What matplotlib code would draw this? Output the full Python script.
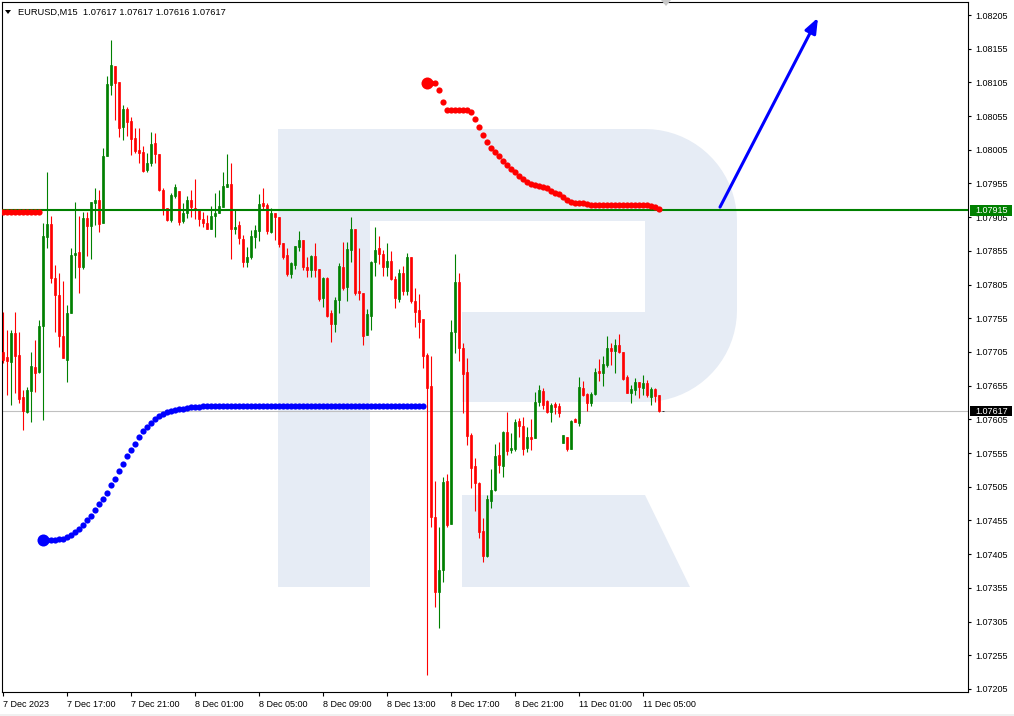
import numpy as np
import matplotlib
matplotlib.use('Agg')
from matplotlib import pyplot as plt
from matplotlib.patches import Polygon, Rectangle
from matplotlib.transforms import blended_transform_factory

plt.rcParams['font.family'] = ['Liberation Sans', 'DejaVu Sans']

title = 'EURUSD,M15  1.07617 1.07617 1.07616 1.07617'

# M15 candles, bar 0 = 7 Dec 13:00
opens = [1.07705, 1.07698, 1.07690, 1.07733, 1.07700, 1.07638, 1.07616, 1.07647, 1.07683, 1.07675,
         1.07744, 1.07876, 1.07895, 1.07815, 1.07790, 1.07729, 1.07693, 1.07763, 1.07849, 1.07853,
         1.07831, 1.07904, 1.07892, 1.07926, 1.07931, 1.07896, 1.07996, 1.08101, 1.08129, 1.08106,
         1.08039, 1.08066, 1.08048, 1.08023, 1.08005, 1.08002, 1.07975, 1.07985, 1.08015, 1.07999,
         1.07945, 1.07919, 1.07901, 1.07936, 1.07944, 1.07899, 1.07911, 1.07931, 1.07919, 1.07916,
         1.07902, 1.07896, 1.07887, 1.07907, 1.07911, 1.07920, 1.07950, 1.07954, 1.07887, 1.07893,
         1.07873, 1.07839, 1.07846, 1.07876, 1.07885, 1.07926, 1.07923, 1.07883, 1.07911, 1.07905,
         1.07867, 1.07849, 1.07821, 1.07834, 1.07861, 1.07871, 1.07831, 1.07827, 1.07847, 1.07828,
         1.07785, 1.07815, 1.07763, 1.07747, 1.07782, 1.07831, 1.07801, 1.07856, 1.07887, 1.07796,
         1.07793, 1.07730, 1.07758, 1.07839, 1.07859, 1.07850, 1.07831, 1.07840, 1.07813, 1.07784,
         1.07822, 1.07796, 1.07846, 1.07781, 1.07767, 1.07754, 1.07701, 1.07655, 1.07460, 1.07349,
         1.07382, 1.07514, 1.07450, 1.07735, 1.07809, 1.07711, 1.07675, 1.07582, 1.07536, 1.07511,
         1.07439, 1.07402, 1.07484, 1.07500, 1.07552, 1.07536, 1.07586, 1.07560, 1.07561, 1.07603,
         1.07595, 1.07563, 1.07579, 1.07577, 1.07631, 1.07647, 1.07632, 1.07616, 1.07628, 1.07625,
         1.07570, 1.07579, 1.07561, 1.07606, 1.07600, 1.07652, 1.07643, 1.07629, 1.07643, 1.07677,
         1.07674, 1.07686, 1.07711, 1.07706, 1.07715, 1.07705, 1.07668, 1.07644, 1.07649, 1.07660,
         1.07652, 1.07659, 1.07638, 1.07650, 1.07641, 1.07617]
highs = [1.07764, 1.07738, 1.07738, 1.07764, 1.07735, 1.07649, 1.07653, 1.07705, 1.07723, 1.07752,
         1.07896, 1.07972, 1.07907, 1.07834, 1.07822, 1.07810, 1.07775, 1.07859, 1.07928, 1.07907,
         1.07913, 1.07913, 1.07928, 1.07948, 1.07945, 1.08008, 1.08114, 1.08168, 1.08129, 1.08106,
         1.08071, 1.08068, 1.08054, 1.08037, 1.08037, 1.08011, 1.08000, 1.08031, 1.08030, 1.07999,
         1.07948, 1.07919, 1.07941, 1.07954, 1.07944, 1.07926, 1.07936, 1.07945, 1.07962, 1.07916,
         1.07913, 1.07908, 1.07922, 1.07941, 1.07945, 1.07972, 1.07999, 1.07985, 1.07916, 1.07899,
         1.07879, 1.07861, 1.07886, 1.07893, 1.07939, 1.07948, 1.07926, 1.07919, 1.07911, 1.07905,
         1.07867, 1.07859, 1.07839, 1.07862, 1.07885, 1.07871, 1.07846, 1.07849, 1.07867, 1.07828,
         1.07816, 1.07816, 1.07767, 1.07787, 1.07837, 1.07868, 1.07868, 1.07905, 1.07887, 1.07859,
         1.07793, 1.07769, 1.07840, 1.07890, 1.07877, 1.07856, 1.07867, 1.07855, 1.07818, 1.07828,
         1.07833, 1.07852, 1.07846, 1.07800, 1.07791, 1.07754, 1.07704, 1.07699, 1.07514, 1.07445,
         1.07520, 1.07524, 1.07752, 1.07850, 1.07822, 1.07718, 1.07696, 1.07585, 1.07548, 1.07512,
         1.07459, 1.07493, 1.07531, 1.07568, 1.07571, 1.07588, 1.07616, 1.07585, 1.07606, 1.07607,
         1.07609, 1.07594, 1.07606, 1.07646, 1.07656, 1.07652, 1.07634, 1.07629, 1.07631, 1.07629,
         1.07582, 1.07579, 1.07604, 1.07607, 1.07668, 1.07662, 1.07644, 1.07646, 1.07681, 1.07695,
         1.07699, 1.07729, 1.07718, 1.07724, 1.07732, 1.07705, 1.07671, 1.07656, 1.07666, 1.07660,
         1.07671, 1.07663, 1.07653, 1.07652, 1.07641, 1.07617]
lows = [1.07689, 1.07641, 1.07626, 1.07644, 1.07629, 1.07589, 1.07614, 1.07601, 1.07646, 1.07674,
        1.07604, 1.07859, 1.07807, 1.07735, 1.07712, 1.07696, 1.07660, 1.07763, 1.07815, 1.07793,
        1.07828, 1.07847, 1.07843, 1.07893, 1.07883, 1.07896, 1.07996, 1.08086, 1.08049, 1.08024,
        1.08020, 1.08025, 1.07997, 1.08000, 1.07985, 1.07972, 1.07972, 1.07981, 1.07985, 1.07944,
        1.07908, 1.07899, 1.07898, 1.07933, 1.07893, 1.07896, 1.07904, 1.07905, 1.07902, 1.07892,
        1.07890, 1.07887, 1.07887, 1.07876, 1.07911, 1.07920, 1.07950, 1.07843, 1.07880, 1.07865,
        1.07831, 1.07831, 1.07843, 1.07859, 1.07870, 1.07917, 1.07880, 1.07882, 1.07871, 1.07861,
        1.07843, 1.07818, 1.07815, 1.07828, 1.07855, 1.07827, 1.07816, 1.07816, 1.07816, 1.07781,
        1.07772, 1.07757, 1.07720, 1.07735, 1.07763, 1.07797, 1.07781, 1.07839, 1.07790, 1.07782,
        1.07715, 1.07730, 1.07738, 1.07818, 1.07836, 1.07818, 1.07818, 1.07812, 1.07770, 1.07779,
        1.07790, 1.07790, 1.07778, 1.07742, 1.07726, 1.07681, 1.07226, 1.07445, 1.07327, 1.07296,
        1.07364, 1.07445, 1.07450, 1.07704, 1.07692, 1.07614, 1.07567, 1.07503, 1.07469, 1.07429,
        1.07393, 1.07401, 1.07474, 1.07499, 1.07525, 1.07520, 1.07552, 1.07555, 1.07558, 1.07579,
        1.07552, 1.07557, 1.07560, 1.07577, 1.07625, 1.07620, 1.07614, 1.07601, 1.07613, 1.07609,
        1.07570, 1.07558, 1.07561, 1.07601, 1.07595, 1.07640, 1.07617, 1.07625, 1.07641, 1.07662,
        1.07655, 1.07683, 1.07686, 1.07674, 1.07704, 1.07663, 1.07644, 1.07629, 1.07641, 1.07637,
        1.07641, 1.07638, 1.07626, 1.07631, 1.07616, 1.07617]
closes = [1.07693, 1.07692, 1.07733, 1.07699, 1.07635, 1.07617, 1.07649, 1.07684, 1.07674, 1.07744,
          1.07877, 1.07895, 1.07815, 1.07790, 1.07729, 1.07696, 1.07763, 1.07849, 1.07852, 1.07831,
          1.07904, 1.07892, 1.07928, 1.07931, 1.07895, 1.07996, 1.08103, 1.08131, 1.08104, 1.08037,
          1.08066, 1.08046, 1.08021, 1.08003, 1.08000, 1.07974, 1.07985, 1.08014, 1.07999, 1.07945,
          1.07916, 1.07901, 1.07938, 1.07950, 1.07898, 1.07911, 1.07931, 1.07920, 1.07916, 1.07902,
          1.07896, 1.07887, 1.07907, 1.07911, 1.07922, 1.07951, 1.07954, 1.07887, 1.07890, 1.07874,
          1.07839, 1.07846, 1.07877, 1.07886, 1.07925, 1.07922, 1.07885, 1.07911, 1.07905, 1.07865,
          1.07846, 1.07821, 1.07837, 1.07862, 1.07871, 1.07831, 1.07827, 1.07847, 1.07827, 1.07784,
          1.07815, 1.07758, 1.07747, 1.07782, 1.07833, 1.07800, 1.07858, 1.07887, 1.07793, 1.07793,
          1.07729, 1.07761, 1.07839, 1.07856, 1.07850, 1.07831, 1.07840, 1.07813, 1.07785, 1.07822,
          1.07796, 1.07846, 1.07781, 1.07764, 1.07750, 1.07699, 1.07652, 1.07460, 1.07349, 1.07382,
          1.07512, 1.07448, 1.07735, 1.07809, 1.07711, 1.07672, 1.07580, 1.07533, 1.07511, 1.07438,
          1.07402, 1.07487, 1.07500, 1.07551, 1.07537, 1.07586, 1.07558, 1.07563, 1.07601, 1.07595,
          1.07561, 1.07579, 1.07576, 1.07631, 1.07649, 1.07626, 1.07616, 1.07626, 1.07623, 1.07614,
          1.07582, 1.07561, 1.07603, 1.07601, 1.07653, 1.07641, 1.07629, 1.07643, 1.07675, 1.07674,
          1.07687, 1.07711, 1.07706, 1.07715, 1.07705, 1.07665, 1.07644, 1.07650, 1.07660, 1.07653,
          1.07659, 1.07641, 1.07650, 1.07640, 1.07617, 1.07617]

tick_bars = [0, 16, 32, 48, 64, 80, 96, 112, 128, 144, 160]
tick_labels = ['7 Dec 2023', '7 Dec 17:00', '7 Dec 21:00', '8 Dec 01:00', '8 Dec 05:00',
               '8 Dec 09:00', '8 Dec 13:00', '8 Dec 17:00', '8 Dec 21:00', '11 Dec 01:00',
               '11 Dec 05:00']

# dotted projection lines
red_left = [1.07912, 1.07912, 1.07912, 1.07912, 1.07912, 1.07912, 1.07912, 1.07912, 1.07912, 1.07912]
blue_start = 10
blue_dots = [1.07426, 1.07426, 1.07426, 1.07426, 1.07428, 1.07428, 1.07431, 1.07434, 1.07438, 1.07443,
             1.07449, 1.07455, 1.07462, 1.07470, 1.07479, 1.07487, 1.07496, 1.07507, 1.07517, 1.07529,
             1.07539, 1.07550, 1.07560, 1.07569, 1.07579, 1.07588, 1.07594, 1.07600, 1.07606, 1.07610,
             1.07613, 1.07616, 1.07617, 1.07619, 1.07620, 1.07621, 1.07622, 1.07623, 1.07623, 1.07624,
             1.07625, 1.07625, 1.07625, 1.07625, 1.07625, 1.07625, 1.07625, 1.07625, 1.07625, 1.07625,
             1.07625, 1.07625, 1.07625, 1.07625, 1.07625, 1.07625, 1.07625, 1.07625, 1.07625, 1.07625,
             1.07625, 1.07625, 1.07625, 1.07625, 1.07625, 1.07625, 1.07625, 1.07625, 1.07625, 1.07625,
             1.07625, 1.07625, 1.07625, 1.07625, 1.07625, 1.07625, 1.07625, 1.07625, 1.07625, 1.07625,
             1.07625, 1.07625, 1.07625, 1.07625, 1.07625, 1.07625, 1.07625, 1.07625, 1.07625, 1.07625,
             1.07625, 1.07625, 1.07625, 1.07625, 1.07625, 1.07625]
red_start = 106
red_dots = [1.08104, 1.08104, 1.08104, 1.08094, 1.08076, 1.08064, 1.08064, 1.08064, 1.08064, 1.08064,
            1.08064, 1.08061, 1.08051, 1.08039, 1.08027, 1.08017, 1.08008, 1.08002, 1.07996, 1.07988,
            1.07982, 1.07977, 1.07972, 1.07966, 1.07962, 1.07957, 1.07954, 1.07953, 1.07951, 1.07950,
            1.07948, 1.07944, 1.07941, 1.07939, 1.07935, 1.07931, 1.07928, 1.07926, 1.07926, 1.07926,
            1.07925, 1.07923, 1.07923, 1.07923, 1.07923, 1.07923, 1.07923, 1.07923, 1.07923, 1.07923,
            1.07923, 1.07923, 1.07923, 1.07923, 1.07923, 1.07923, 1.07922, 1.07920, 1.07917]
level = 1.07915
bid = 1.07617
arrow_from = (179.25, 1.07920)
arrow_to = (203.75, 1.08201)

W, H = 1014, 716
fig = plt.figure(figsize=(W / 100, H / 100), dpi=100)
ax = fig.add_axes([2 / W, 1 - 692 / H, 966 / W, 690 / H])


def px(x, y):
    return (x / W, 1 - y / H)


# watermark logo (figure pixels)
wm = '#E6ECF5'
bowl = [(278, 129), (645, 129)]
for a in np.linspace(90, 0, 20):
    r = np.radians(a)
    bowl.append((645 + 92 * np.cos(r), 221 - 92 * np.sin(r)))
for a in np.linspace(0, -90, 20):
    r = np.radians(a)
    bowl.append((645 + 92 * np.cos(r), 310 - 92 * np.sin(r)))
bowl += [(462, 402), (462, 312), (645, 312), (645, 221), (370, 221), (370, 587), (278, 587)]
leg = [(462, 495), (645, 495), (690, 587), (462, 587)]
for shape in (bowl, leg):
    ax.add_patch(Polygon([px(*p) for p in shape], closed=True, transform=fig.transFigure,
                         fc=wm, ec='none', zorder=0))

x = np.arange(len(opens))
o = np.array(opens)
c = np.array(closes)
colors = ['#008000' if cc > oo else ('#FF0000' if cc < oo else 'black') for oo, cc in zip(o, c)]

ax.axhline(bid, color='#C0C0C0', lw=0.8, zorder=1)
ax.vlines(x, lows, highs, colors=colors, lw=0.8, zorder=2)
ax.bar(x, np.maximum(np.abs(c - o), 0.00001), width=0.7, bottom=np.minimum(o, c),
       color=colors, edgecolor=colors, lw=0.5, zorder=3)
ax.axhline(level, color='#008000', lw=1.5, zorder=4)

ax.scatter(np.arange(len(red_left)), red_left, s=20, c='#FF0000', lw=0, zorder=5)
bx = np.arange(blue_start, blue_start + len(blue_dots))
ax.scatter(bx, blue_dots, s=20, c='#0000FF', lw=0, zorder=5)
ax.scatter([bx[0]], [blue_dots[0]], s=75, c='#0000FF', lw=0, zorder=5)
rx = np.arange(red_start, red_start + len(red_dots))
ax.scatter(rx, red_dots, s=20, c='#FF0000', lw=0, zorder=5)
ax.scatter([rx[0]], [red_dots[0]], s=75, c='#FF0000', lw=0, zorder=5)

ax.annotate('', xy=arrow_to, xytext=arrow_from,
            arrowprops=dict(arrowstyle='-|>,head_length=0.9,head_width=0.35', color='#0000FF',
                            lw=2.2, shrinkA=0, shrinkB=0), zorder=6)

ax.set_xlim(-0.25, 241.25)
ax.set_ylim(1.072005, 1.082243)

price_ticks = np.arange(1.07205, 1.08206, 0.0005)
ax.yaxis.tick_right()
ax.set_yticks(price_ticks)
ax.set_yticklabels(['%.5f' % p for p in price_ticks])
ax.tick_params(axis='y', direction='out', length=2.5, width=0.8, pad=2.5, labelsize=6.5)
ax.set_xticks(tick_bars)
ax.set_xticklabels(tick_labels, ha='left')
ax.tick_params(axis='x', direction='out', length=3, width=0.8, pad=2.5, labelsize=6.5)
for s in ax.spines.values():
    s.set_linewidth(0.8)

# price tags on the right scale
blend = blended_transform_factory(ax.transAxes, ax.transData)
for price, bg in ((level, '#008000'), (bid, 'black')):
    ax.add_patch(Rectangle((1.0021, price - 0.000075), 0.0435, 0.00015, transform=blend,
                           fc=bg, ec='none', clip_on=False, zorder=10))
    ax.text(1.0072, price, '%.5f' % price, transform=blend, color='white', fontsize=6.5,
            va='center', ha='left', clip_on=False, zorder=11)

# title and small markers
fig.text(18 / W, 1 - 12 / H, title, fontsize=6.7, va='center', ha='left')
fig.add_artist(Polygon([px(5, 10), px(11, 10), px(8, 14)], closed=True,
                       transform=fig.transFigure, fc='black', ec='none'))
fig.add_artist(Polygon([px(661, 0), px(671, 0), px(666, 6)], closed=True,
                       transform=fig.transFigure, fc='#C8C8C8', ec='none'))
fig.add_artist(Rectangle((0, 0), 1, 2 / H, transform=fig.transFigure, fc='#F0F0F0', ec='none'))

plt.savefig('out.png', dpi=100)
